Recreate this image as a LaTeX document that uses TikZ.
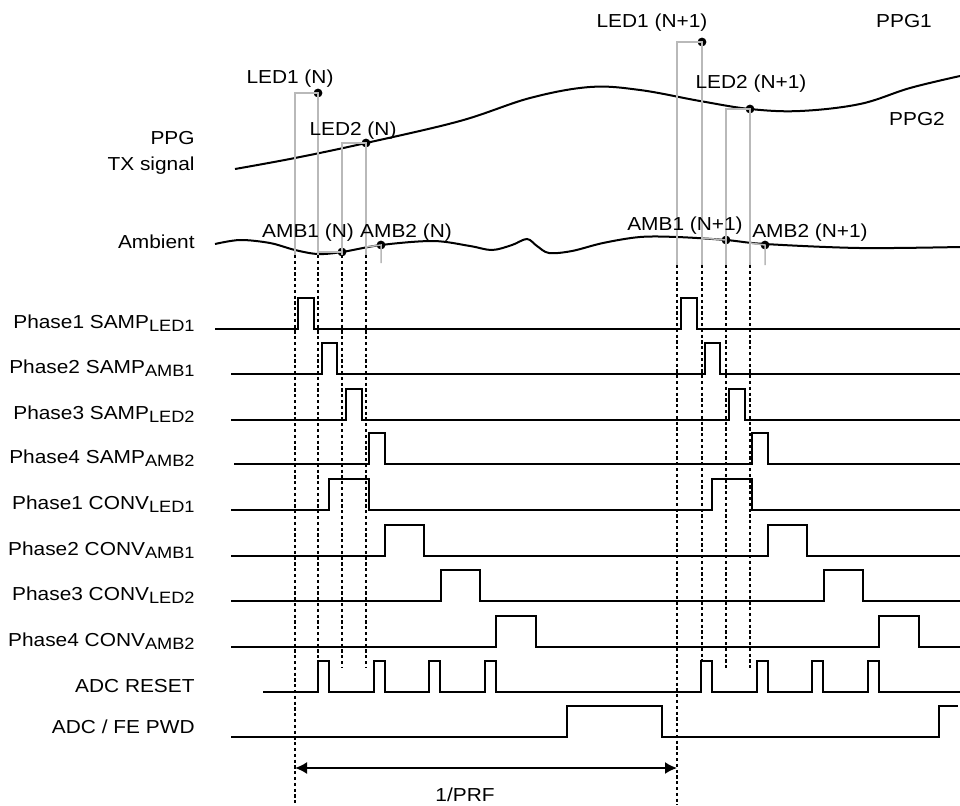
\documentclass[tikz,border=0pt]{standalone}
\usepackage{fontspec}
\setmainfont{Liberation Sans}[FakeStretch=1.11]
\usetikzlibrary{arrows.meta}
\newcommand{\lsub}[1]{\raisebox{-1.7pt}{\fontsize{8.2}{9}\selectfont #1}}

\begin{document}
\begin{tikzpicture}[
  x=0.5pt, y=-0.5pt,
  font=\fontsize{9.4}{11}\selectfont,
  sig/.style={line width=1pt},
  tap/.style={draw=gray!55, line width=0.75pt},
  guide/.style={line width=0.8pt, dash pattern=on 1.6pt off 1.3pt},
  dot/.style={circle, fill=black, inner sep=0pt, minimum size=4.4pt},
  lab/.style={inner sep=0pt, anchor=base},
  rowlab/.style={inner sep=0pt, anchor=base east},
  prfarr/.style={{Latex[length=6pt,width=6pt]}-{Latex[length=6pt,width=6pt]}, line width=0.9pt}
]
\useasboundingbox (0,0) rectangle (960,805);

% PPG and ambient curves
\draw[sig] plot[smooth, tension=0.6] coordinates {(235,169) (295,158) (366,143) (460,121) (530,98) (590,87) (640,90) (700,101) (750,109) (800,111) (860,104) (910,88) (960,76)};
\draw[sig] plot[smooth, tension=0.55] coordinates {(215,244) (240,240) (270,243) (295,250) (318,254) (342,252) (381,245) (433,241) (470,246) (492,250) (512,245) (527,239) (537,246) (549,253) (572,251) (603,243) (640,237) (677,237) (726,240) (765,244) (860,248) (960,247)};

\node[rowlab] (ppg) at (195,144) {PPG};
\node[rowlab] (txsig) at (195,170) {TX signal};
\node[rowlab] (amb) at (195,248) {Ambient};
\node[lab] (ppg1) at (904,27) {PPG1};
\node[lab] (ppg2) at (917,125) {PPG2};

% dotted guides
\foreach \x/\t/\b in {295/255/805, 318/255/661, 342/255/668, 366/255/668,
                      677/265/805, 702/265/661, 726/265/668, 750/265/668}
  \draw[guide] (\x,\t) -- (\x,\b);

% sample taps, frame N
\node[dot] (led1n) at (318,93) {};
\node[dot] (led2n) at (366,143) {};
\node[dot] (amb1n) at (342,252) {};
\node[dot] (amb2n) at (381,245) {};
\draw[tap] (295,255) |- (led1n.center) -- (318,255);
\draw[tap] (342,255) |- (led2n.center) -- (366,255);
\draw[tap] (318,252) -- (amb1n.center);
\draw[tap] (366,247) -- (amb2n.center) -- (381,263);
\node[lab] (tled1n) at (290,83) {LED1 (N)};
\node[lab] (tled2n) at (353,135) {LED2 (N)};
\node[lab] (tamb1n) at (308,237) {AMB1 (N)};
\node[lab] (tamb2n) at (406,237) {AMB2 (N)};

% sample taps, frame N+1
\node[dot] (led1m) at (702,42) {};
\node[dot] (led2m) at (750,109) {};
\node[dot] (amb1m) at (726,240) {};
\node[dot] (amb2m) at (765,245) {};
\draw[tap] (677,265) |- (led1m.center) -- (702,265);
\draw[tap] (726,265) |- (led2m.center) -- (750,265);
\draw[tap] (702,238) -- (amb1m.center);
\draw[tap] (750,243) -- (amb2m.center) -- (765,265);
\node[lab] (tled1m) at (652,27) {LED1 (N+1)};
\node[lab] (tled2m) at (751,88) {LED2 (N+1)};
\node[lab] (tamb1m) at (685,230) {AMB1 (N+1)};
\node[lab] (tamb2m) at (810,237) {AMB2 (N+1)};

% phase rows
\foreach \y/\a/\b/\s/\n/\t in {
    329/298/314/215/p1s/{Phase1 SAMP\lsub{LED1}},
    374/322/337/231/p2s/{Phase2 SAMP\lsub{AMB1}},
    420/346/362/231/p3s/{Phase3 SAMP\lsub{LED2}},
    464/369/385/234/p4s/{Phase4 SAMP\lsub{AMB2}},
    510/329/369/231/p1c/{Phase1 CONV\lsub{LED1}},
    556/385/424/231/p2c/{Phase2 CONV\lsub{AMB1}},
    601/441/480/231/p3c/{Phase3 CONV\lsub{LED2}},
    647/496/536/231/p4c/{Phase4 CONV\lsub{AMB2}}}
{
  \draw[sig] (\s,\y) -| (\a,\y-31) -| (\b,\y) -| (\a+383,\y-31) -| (\b+383,\y) -- (960,\y);
  \node[rowlab] (\n) at (195,\y-1) {\t};
}

% ADC rows
\draw[sig] (263,692) foreach \p in {318,374,429,485,701,757,812,868} { -| (\p,661) -| (\p+11,692) } -- (960,692);
\node[rowlab] (rst) at (195,692) {ADC RESET};
\draw[sig] (231,737) -| (567,706) -| (662,737) -| (939,706) -- (958,706);
\node[rowlab] (pwd) at (195,733) {ADC / FE PWD};

% frame period
\coordinate (prfl) at (295,768);
\coordinate (prfr) at (677,768);
\draw[prfarr] (prfl) -- (prfr);
\node[lab] (prf) at (465,801) {1/PRF};
\end{tikzpicture}
\end{document}
